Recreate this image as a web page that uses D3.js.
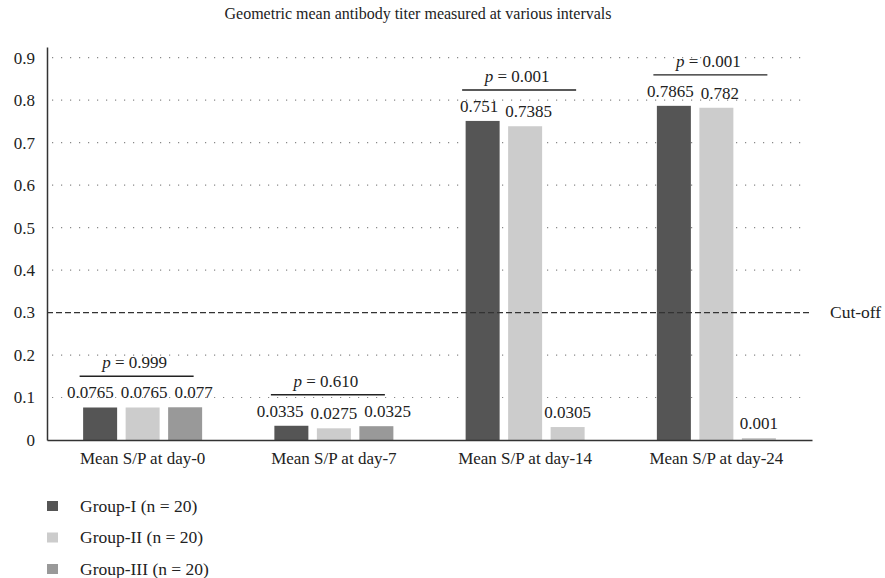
<!DOCTYPE html>
<html>
<head>
<meta charset="utf-8">
<script src="https://cdn.jsdelivr.net/npm/d3@7"></script>
<style>
  body { margin: 0; background: #fff; }
  svg { display: block; }
  svg text { font-family: "Liberation Serif", "DejaVu Serif", serif !important; }
</style>
</head>
<body>
<svg id="chart" width="885" height="578"></svg>
<script>
const title = "Geometric mean antibody titer measured at various intervals";
const categories = ["Mean S/P at day-0", "Mean S/P at day-7", "Mean S/P at day-14", "Mean S/P at day-24"];
const groups = ["Group-I (n = 20)", "Group-II (n = 20)", "Group-III (n = 20)"];
const groupI = [0.0765, 0.0335, 0.751, 0.7865];
const groupII = [0.0765, 0.0275, 0.7385, 0.782];
const groupIII = [0.077, 0.0325, 0.0305, 0.001];
const valueLabels = [
  ["0.0765", "0.0765", "0.077"],
  ["0.0335", "0.0275", "0.0325"],
  ["0.751", "0.7385", "0.0305"],
  ["0.7865", "0.782", "0.001"]
];
const pValues = ["0.999", "0.610", "0.001", "0.001"];
const yTicks = [0, 0.1, 0.2, 0.3, 0.4, 0.5, 0.6, 0.7, 0.8, 0.9];
const cutoff = 0.3;
const cutoffLabel = "Cut-off";

(function () {
const series = [groupI, groupII, groupIII];
const colors = ["#555555", "#cccccc", "#999999"];
const FS = 17;

const svg = d3.select("#chart");
const mLeft = 47, mRight = 812, mTop = 47, mBottom = 440;

const y = d3.scaleLinear().domain([0, 0.925]).range([mBottom, mTop]);
const x0 = d3.scaleBand().domain(categories).range([mLeft, mRight]).padding(0);
const groupWidth = 119;
const x1 = d3.scaleBand().domain(d3.range(groups.length)).range([0, groupWidth]).paddingInner(0.2);
const groupOffset = (x0.bandwidth() - groupWidth) / 2;

// Title
svg.append("text").attr("x", 418).attr("y", 19).attr("text-anchor", "middle")
  .attr("font-size", 16).attr("fill", "#222").text(title);

// Gridlines (dotted), excluding 0 and cutoff
svg.append("g").selectAll("line")
  .data(yTicks.filter(t => t > 0 && Math.abs(t - cutoff) > 1e-9))
  .join("line")
  .attr("x1", mLeft + 5).attr("x2", 806)
  .attr("y1", d => y(d)).attr("y2", d => y(d))
  .attr("stroke", "#888").attr("stroke-width", 1.2)
  .attr("stroke-dasharray", "1.2,7.8");

// Y axis
const yAxis = d3.axisLeft(y).tickValues(yTicks).tickSize(0).tickPadding(12)
  .tickFormat(d => d === 0 ? "0" : d3.format(".1f")(d));
const ya = svg.append("g").attr("transform", `translate(${mLeft},0)`).call(yAxis);
ya.attr("font-family", null);
ya.select(".domain").attr("stroke", "#333").attr("stroke-width", 1.5);
ya.selectAll("text").attr("font-size", FS).attr("fill", "#222");

// Bars
const barG = svg.append("g");
const labG = svg.append("g");
categories.forEach((cat, ci) => {
  const labs = [];
  series.forEach((s, gi) => {
    const bx = x0(cat) + groupOffset + x1(gi);
    // group III bars at later intervals appear in the lighter shade in the reference
    const fill = (gi === 2 && ci >= 2) ? colors[1] : colors[gi];
    const top = Math.min(y(s[ci]), y(0) - 2);
    barG.append("rect")
      .attr("x", bx).attr("width", x1.bandwidth())
      .attr("y", top).attr("height", y(0) - top)
      .attr("fill", fill);
    const t = labG.append("text")
      .attr("y", top - 9)
      .attr("text-anchor", "middle").attr("font-size", FS).attr("fill", "#222")
      .text(valueLabels[ci][gi]);
    labs.push({ t, x: bx + x1.bandwidth() / 2, y: top - 9, w: t.node().getComputedTextLength() });
  });
  // push apart overlapping labels
  for (let it = 0; it < 30; it++) {
    for (let i = 0; i < labs.length - 1; i++) {
      const a = labs[i], b = labs[i + 1];
      if (Math.abs(a.y - b.y) > 14) continue;
      const need = (a.w + b.w) / 2 + 7;
      const d = b.x - a.x;
      if (d < need) { const s = (need - d) / 2; a.x -= s; b.x += s; }
    }
  }
  labs.forEach(l => l.t.attr("x", l.x));

  // p-value bracket
  const maxV = d3.max(series, s => s[ci]);
  const ly = y(maxV) - 31;
  const cx = x0(cat) + x0.bandwidth() / 2 - 6;
  barG.append("line").attr("x1", cx - 57).attr("x2", cx + 57)
    .attr("y1", ly).attr("y2", ly).attr("stroke", "#222").attr("stroke-width", 1.4);
  const pt = barG.append("text").attr("x", cx - 2).attr("y", ly - 8)
    .attr("text-anchor", "middle").attr("font-size", FS).attr("fill", "#222");
  pt.append("tspan").attr("font-style", "italic").text("p");
  pt.append("tspan").text(" = " + pValues[ci]);
});

// Cutoff line
svg.append("line").attr("x1", mLeft).attr("x2", mRight)
  .attr("y1", y(cutoff)).attr("y2", y(cutoff))
  .attr("stroke", "#333").attr("stroke-width", 1.2).attr("stroke-dasharray", "6,3");
svg.append("text").attr("x", 830).attr("y", y(cutoff) + 5)
  .attr("font-size", 17.5).attr("fill", "#222").text(cutoffLabel);

// X axis
const xAxis = d3.axisBottom(x0).tickSize(0).tickPadding(12);
const xa = svg.append("g").attr("transform", `translate(0,${mBottom})`).call(xAxis);
xa.attr("font-family", null);
xa.select(".domain").attr("stroke", "#333").attr("stroke-width", 1.5);
xa.selectAll("text").attr("font-size", FS).attr("fill", "#222");

// Legend
const lg = svg.append("g");
groups.forEach((g, i) => {
  const ly = 506 + i * 31.5;
  lg.append("rect").attr("x", 47).attr("y", ly - 5).attr("width", 11).attr("height", 10).attr("fill", colors[i]);
  lg.append("text").attr("x", 80).attr("y", ly + 5.5).attr("font-size", 17.5).attr("fill", "#222").text(g);
});
})();
</script>
</body>
</html>
